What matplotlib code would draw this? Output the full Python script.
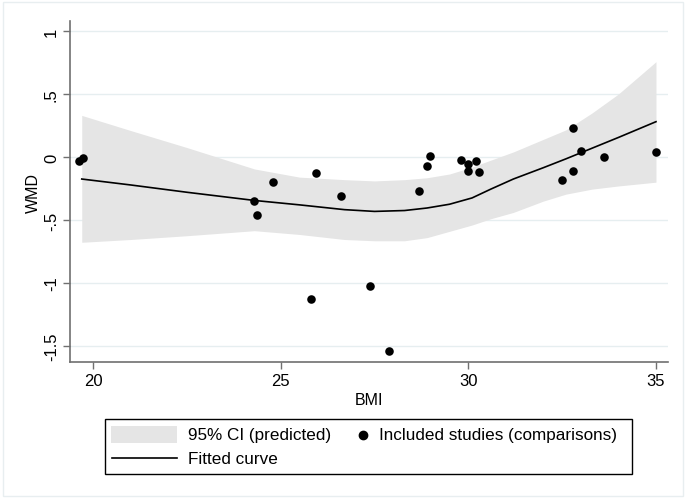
import matplotlib.pyplot as plt
from matplotlib.patches import Rectangle
from matplotlib.lines import Line2D

plt.rcParams['font.family'] = ['Liberation Sans', 'DejaVu Sans']

# included studies (comparisons)
bmi = [19.63, 19.73, 24.29, 24.38, 24.79, 25.80, 25.93, 26.60, 27.38, 27.89,
       28.69, 28.89, 28.99, 29.80, 29.99, 29.99, 30.20, 30.29,
       32.50, 32.80, 32.80, 33.00, 33.61, 35.01]
wmd = [-0.03, -0.01, -0.352, -0.457, -0.20, -1.125, -0.129, -0.306, -1.024, -1.542,
       -0.272, -0.074, 0.005, -0.021, -0.056, -0.114, -0.032, -0.122,
       -0.185, 0.228, -0.111, 0.045, -0.003, 0.042]

# fitted curve and 95% CI (predicted)
fit_x = [19.7, 21, 22.5, 24.3, 25.5, 26.7, 27.5, 28.3, 28.9, 29.5, 30.1, 30.6,
         31.2, 32.0, 32.6, 33.3, 34.0, 35.0]
fit_y = [-0.175, -0.222, -0.28, -0.345, -0.38, -0.418, -0.432, -0.425, -0.405, -0.375,
         -0.325, -0.255, -0.175, -0.085, -0.015, 0.07, 0.155, 0.28]
ci_hi = [0.33, 0.21, 0.075, -0.095, -0.16, -0.18, -0.19, -0.18, -0.165, -0.135,
         -0.08, -0.025, 0.04, 0.14, 0.215, 0.35, 0.5, 0.756]
ci_lo = [-0.677, -0.655, -0.625, -0.585, -0.615, -0.655, -0.665, -0.665, -0.64, -0.59,
         -0.54, -0.49, -0.44, -0.35, -0.295, -0.255, -0.23, -0.20]

xticks = [20, 25, 30, 35]
yticks = [-1.5, -1, -0.5, 0, 0.5, 1]
ytick_labels = ['-1.5', '-1', '-.5', '0', '.5', '1']
legend_labels = ['95% CI (predicted)', 'Included studies (comparisons)', 'Fitted curve']

W, H = 688, 502
fig = plt.figure(figsize=(W / 100, H / 100), dpi=100)
ax = fig.add_axes([70 / W, 1 - 363 / H, 598 / W, 341 / H])

band_col = '#e5e5e5'
ax.fill_between(fit_x, ci_lo, ci_hi, color=band_col, lw=0, zorder=1)
ax.plot(fit_x, fit_y, color='black', lw=1.2, zorder=2)
ax.scatter(bmi, wmd, s=38, color='black', zorder=3, linewidths=0)

ax.set_xlim(19.387, 35.32)
ax.set_ylim(-1.627, 1.079)
ax.set_xticks(xticks)
ax.set_yticks(yticks)
ax.set_yticklabels(ytick_labels, rotation=90, va='center')
ax.tick_params(labelsize=12, direction='out', length=5, width=1, color='#707070', pad=3)
ax.grid(axis='y', color='#e6eef0', lw=1, zorder=0)
ax.set_axisbelow(True)

for s in ['top', 'right']:
    ax.spines[s].set_visible(False)
for s in ['left', 'bottom']:
    ax.spines[s].set_color('#707070')
    ax.spines[s].set_linewidth(1.2)

ax.set_xlabel('BMI', fontsize=11.5, labelpad=3)
ax.set_ylabel('WMD', fontsize=11.5, labelpad=2)

# legend, drawn by hand in pixel coordinates (Stata layout)
def fx(px):
    return px / W

def fy(py):
    return 1 - py / H

fig.patches.append(Rectangle((fx(105), fy(475)), fx(632) - fx(105), fy(420) - fy(475),
                             transform=fig.transFigure, fill=False, edgecolor='black', lw=1))
fig.patches.append(Rectangle((fx(111), fy(444)), fx(177) - fx(111), fy(427) - fy(444),
                             transform=fig.transFigure, facecolor=band_col, edgecolor='none'))
fig.lines.append(Line2D([fx(112), fx(177)], [fy(459), fy(459)], transform=fig.transFigure,
                        color='black', lw=1.2))
fig.lines.append(Line2D([fx(363)], [fy(436)], transform=fig.transFigure, marker='o',
                        color='black', markersize=6, ls='none'))
fig.text(fx(188), fy(436), legend_labels[0], fontsize=12.3, va='center')
fig.text(fx(379), fy(436), legend_labels[1], fontsize=12.3, va='center')
fig.text(fx(188), fy(460), legend_labels[2], fontsize=12.3, va='center')

# outer graph region border
fig.patches.append(Rectangle((3 / W, 5 / H), 680 / W, 494 / H, transform=fig.transFigure,
                             fill=False, edgecolor='#e8eef0', lw=1))

fig.savefig('out.png', dpi=100)
